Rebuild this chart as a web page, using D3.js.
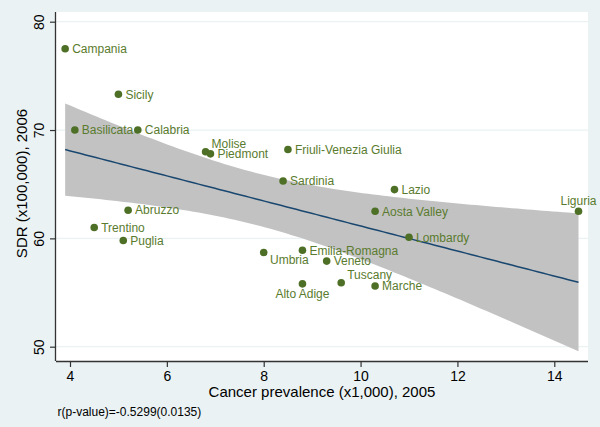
<!DOCTYPE html>
<html>
<head>
<meta charset="utf-8">
<script src="https://cdn.jsdelivr.net/npm/d3@7"></script>
<style>
  html, body { margin: 0; padding: 0; background: #eaf2f3; }
  svg { display: block; font-family: Arial, "Liberation Sans", Helvetica, sans-serif; }
</style>
</head>
<body>
<svg id="chart" width="600" height="427"></svg>
<script>
// ---- Data ----
const regions = ["Campania","Sicily","Basilicata","Calabria","Molise","Piedmont","Friuli-Venezia Giulia",
  "Sardinia","Lazio","Aosta Valley","Liguria","Lombardy","Emilia-Romagna","Veneto","Tuscany","Marche",
  "Alto Adige","Umbria","Abruzzo","Trentino","Puglia"];
const prevalence = [3.9, 5.0, 4.1, 5.4, 6.8, 6.9, 8.5, 8.4, 10.7, 10.3, 14.5, 11.0, 8.8, 9.3, 9.6, 10.3, 8.8, 8.0, 5.2, 4.5, 5.1];
const sdr = [77.5, 73.3, 70.0, 70.0, 68.0, 67.8, 68.2, 65.3, 64.5, 62.5, 62.5, 60.1, 58.9, 57.9, 55.9, 55.6, 55.8, 58.7, 62.6, 61.0, 59.8];
const xTicks = [4, 6, 8, 10, 12, 14];
const yTicks = [50, 60, 70, 80];
const xTitle = "Cancer prevalence (x1,000), 2005";
const yTitle = "SDR (x100,000), 2006";
const note = "r(p-value)=-0.5299(0.0135)";
// t quantile (0.975, df = n-2 = 19) for 95% CI of the fitted mean
const tCrit = 2.093024;

// marker label clock positions (styling, Stata mlabvpos-like)
const labelClock = { "Molise": 1, "Tuscany": 1, "Umbria": 4, "Alto Adige": 6, "Liguria": 12 };

// ---- Layout ----
const svg = d3.select("#chart");
const W = 600, H = 427;
const L = 56, R = 588, T = 12, B = 361;
const bg = "#eaf2f3";

svg.append("rect").attr("width", W).attr("height", H).attr("fill", bg);
svg.append("rect").attr("x", L).attr("y", T).attr("width", R - L).attr("height", B - T).attr("fill", "#ffffff");

const x = d3.scaleLinear().domain([3.711, 14.696]).range([L, R]);
const y = d3.scaleLinear().domain([48.68, 80.895]).range([B, T]);

// gridlines
svg.append("g").selectAll("line").data(yTicks).join("line")
  .attr("x1", L).attr("x2", R)
  .attr("y1", d => y(d)).attr("y2", d => y(d))
  .attr("stroke", bg).attr("stroke-width", 1.2);

// ---- Linear fit + 95% CI ----
const pts = prevalence.map((v, i) => ({ name: regions[i], x: v, y: sdr[i] }));
const n = pts.length;
const xbar = d3.mean(pts, d => d.x), ybar = d3.mean(pts, d => d.y);
const Sxx = d3.sum(pts, d => (d.x - xbar) ** 2);
const Sxy = d3.sum(pts, d => (d.x - xbar) * (d.y - ybar));
const b = Sxy / Sxx, a = ybar - b * xbar;
const sse = d3.sum(pts, d => (d.y - a - b * d.x) ** 2);
const s = Math.sqrt(sse / (n - 2));
const [xmin, xmax] = d3.extent(pts, d => d.x);
const grid = d3.range(0, 101).map(k => xmin + (xmax - xmin) * k / 100);
const fit = grid.map(g => {
  const yh = a + b * g;
  const se = s * Math.sqrt(1 / n + (g - xbar) ** 2 / Sxx);
  return { x: g, y: yh, lo: yh - tCrit * se, hi: yh + tCrit * se };
});

svg.append("path").datum(fit)
  .attr("d", d3.area().x(d => x(d.x)).y0(d => y(d.lo)).y1(d => y(d.hi)))
  .attr("fill", "#c2c2c2");

svg.append("path").datum(fit)
  .attr("d", d3.line().x(d => x(d.x)).y(d => y(d.y)))
  .attr("fill", "none").attr("stroke", "#1a476f").attr("stroke-width", 1.5);

// ---- Axes ----
const axisColor = "#333333";
const gx = svg.append("g").attr("transform", `translate(0,${B})`)
  .call(d3.axisBottom(x).tickValues(xTicks).tickSize(6).tickPadding(4).tickFormat(d3.format("d")));
gx.select(".domain").attr("d", `M${L},0.5H${R}`).attr("stroke", axisColor).attr("stroke-width", 1.3);
gx.selectAll(".tick line").attr("stroke", axisColor).attr("stroke-width", 1.2);
gx.selectAll(".tick text").attr("font-size", 14).attr("fill", "#000").attr("font-family", "Arial, Liberation Sans, sans-serif");

const gy = svg.append("g").attr("transform", `translate(${L},0)`)
  .call(d3.axisLeft(y).tickValues(yTicks).tickSize(6).tickFormat(d3.format("d")));
gy.select(".domain").attr("d", `M-0.5,${T}V${B}`).attr("stroke", axisColor).attr("stroke-width", 1.3);
gy.selectAll(".tick line").attr("stroke", axisColor).attr("stroke-width", 1.2);
gy.selectAll(".tick text")
  .attr("font-size", 14).attr("fill", "#000").attr("font-family", "Arial, Liberation Sans, sans-serif")
  .attr("x", null).attr("dy", null)
  .attr("text-anchor", "middle")
  .attr("transform", "translate(-12.5,0) rotate(-90)");

// titles
svg.append("text").attr("x", (L + R) / 2).attr("y", 397).attr("text-anchor", "middle")
  .attr("font-size", 15).attr("fill", "#000").text(xTitle);
svg.append("text").attr("text-anchor", "middle")
  .attr("transform", `translate(26.5,${(T + B) / 2 - 3}) rotate(-90)`)
  .attr("font-size", 15).attr("fill", "#000").text(yTitle);
svg.append("text").attr("x", 57.5).attr("y", 415.5)
  .attr("font-size", 12).attr("fill", "#000").text(note);

// ---- Points & labels ----
svg.append("g").selectAll("circle").data(pts).join("circle")
  .attr("cx", d => x(d.x)).attr("cy", d => y(d.y)).attr("r", 3.8)
  .attr("fill", "#4e7026");

const off = {
  3: { dx: 7, dy: 4.3, anchor: "start" },
  1: { dx: 6, dy: -4, anchor: "start" },
  4: { dx: 6.3, dy: 12, anchor: "start" },
  6: { dx: 0, dy: 14.3, anchor: "middle" },
  12: { dx: 0, dy: -6, anchor: "middle" }
};
svg.append("g").selectAll("text").data(pts).join("text")
  .each(function(d) {
    const o = off[labelClock[d.name] || 3];
    d3.select(this)
      .attr("x", x(d.x) + o.dx).attr("y", y(d.y) + o.dy)
      .attr("text-anchor", o.anchor);
  })
  .attr("font-size", 12).attr("fill", "#5a7b2e")
  .text(d => d.name);
</script>
</body>
</html>
